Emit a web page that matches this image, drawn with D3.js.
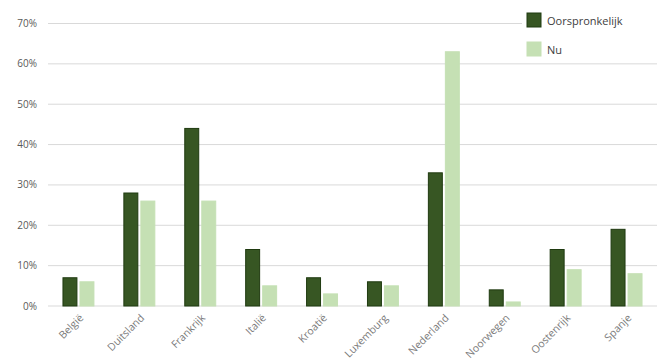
<!DOCTYPE html>
<html>
<head>
<meta charset="utf-8">
<script src="https://cdn.jsdelivr.net/npm/d3@7"></script>
<style>
  body { margin: 0; background: #fff; }
  text { font-family: "Open Sans", "Noto Sans", sans-serif; fill: #595959; }
</style>
</head>
<body>
<svg id="chart" width="667" height="363"></svg>
<script>
const landen = ["België", "Duitsland", "Frankrijk", "Italië", "Kroatië", "Luxemburg", "Nederland", "Noorwegen", "Oostenrijk", "Spanje"];
const oorspronkelijk = [7, 28, 44, 14, 7, 6, 33, 4, 14, 19];
const nu = [6, 26, 26, 5, 3, 5, 63, 1, 9, 8];
const yTicks = [0, 10, 20, 30, 40, 50, 60, 70];
const reeksen = ["Oorspronkelijk", "Nu"];
const kleuren = ["#375623", "#C5E0B4"];
const randen = ["#1f3a10", "#C5E0B4"];

const svg = d3.select("#chart");
const margin = { left: 48, right: 10, top: 23.5, bottom: 57 };
const width = +svg.attr("width");
const height = +svg.attr("height");

const x = d3.scaleBand().domain(landen).range([margin.left, width - margin.right]);
const xSub = d3.scaleBand().domain(reeksen).range([0, 34]).paddingInner(0.12).paddingOuter(0.06);
const y = d3.scaleLinear().domain([0, 70]).range([height - margin.bottom, margin.top]);

// rasterlijnen
svg.append("g")
  .selectAll("line")
  .data(yTicks)
  .enter()
  .append("line")
  .attr("x1", margin.left)
  .attr("x2", width - margin.right)
  .attr("y1", d => y(d))
  .attr("y2", d => y(d))
  .attr("stroke", "#d9d9d9")
  .attr("stroke-width", 1);

// y-as labels
svg.append("g")
  .selectAll("text")
  .data(yTicks)
  .enter()
  .append("text")
  .attr("x", 37)
  .attr("y", d => y(d))
  .attr("dy", "0.35em")
  .attr("text-anchor", "end")
  .style("font-size", "10px")
  .text(d => d + "%");

const data = landen.map((l, i) => ({ land: l, waarden: [oorspronkelijk[i], nu[i]] }));

const groep = svg.append("g")
  .selectAll("g")
  .data(data)
  .enter()
  .append("g")
  .attr("transform", d => "translate(" + (x(d.land) + x.bandwidth() / 2 - 17) + ",0)");

groep.selectAll("rect")
  .data(d => d.waarden.map((v, j) => ({ reeks: reeksen[j], v: v, j: j })))
  .enter()
  .append("rect")
  .attr("x", d => xSub(d.reeks) + 0.5)
  .attr("width", xSub.bandwidth() - 1)
  .attr("y", d => y(d.v))
  .attr("height", d => y(0) - y(d.v))
  .attr("fill", d => kleuren[d.j])
  .attr("stroke", d => randen[d.j])
  .attr("stroke-width", 1);

// x-as labels
svg.append("g")
  .selectAll("text")
  .data(landen)
  .enter()
  .append("text")
  .attr("transform", d => "translate(" + (x(d) + x.bandwidth() / 2 + 3) + "," + (y(0) + 10) + ") rotate(-45)")
  .attr("text-anchor", "end")
  .attr("dy", "0.35em")
  .style("font-size", "10.5px")
  .style("fill", "#7a7a7a")
  .text(d => d);

// legenda
const legenda = svg.append("g").attr("transform", "translate(522,8)");
legenda.append("rect")
  .attr("x", 0).attr("y", 0).attr("width", 140).attr("height", 55)
  .attr("fill", "#fff");
const item = legenda.selectAll("g.item")
  .data(reeksen)
  .enter()
  .append("g")
  .attr("class", "item")
  .attr("transform", (d, i) => "translate(5," + (5 + i * 29) + ")");
item.append("rect")
  .attr("width", 14).attr("height", 14)
  .attr("fill", (d, i) => kleuren[i])
  .attr("stroke", (d, i) => randen[i]);
item.append("text")
  .attr("x", 20)
  .attr("y", 7)
  .attr("dy", "0.45em")
  .style("font-size", "11px")
  .style("fill", "#404040")
  .text(d => d);
</script>
</body>
</html>
